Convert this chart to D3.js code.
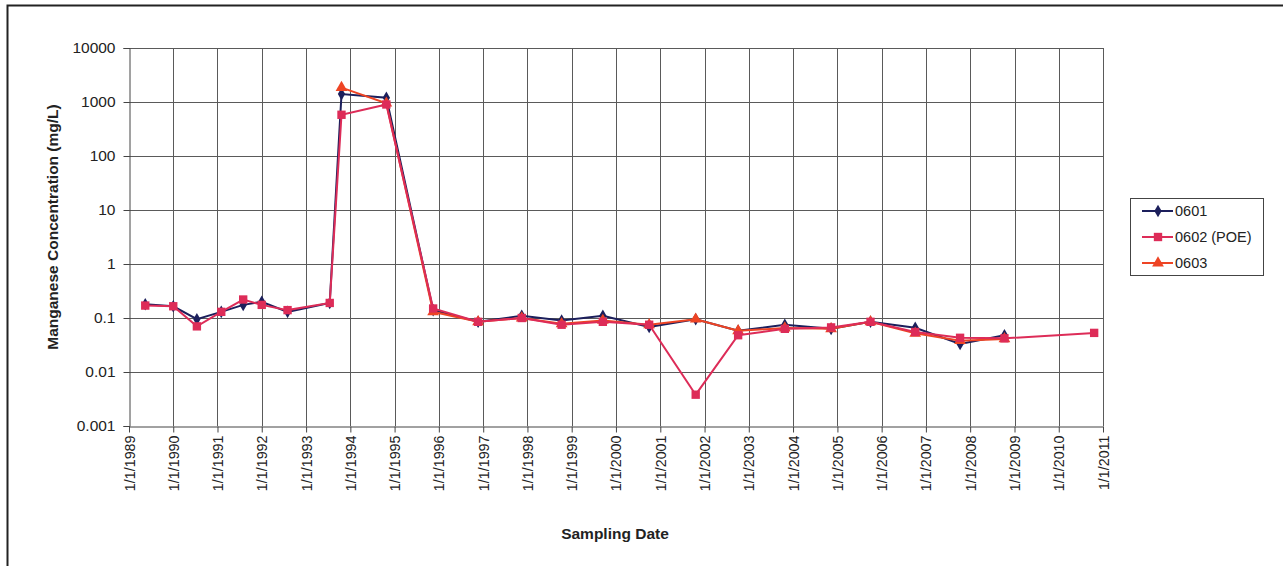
<!DOCTYPE html>
<html>
<head>
<meta charset="utf-8">
<script src="https://cdn.jsdelivr.net/npm/d3@7"></script>
<style>
  html, body { margin: 0; padding: 0; background: #fff; }
  svg { display: block; font-family: "Liberation Sans", Arial, sans-serif; }
</style>
</head>
<body>
<svg id="chart" width="1283" height="566"></svg>
<script>
// Manganese concentration at wells 0601, 0602 (POE) and 0603
const seriesNames = ["0601", "0602 (POE)", "0603"];

const dates0601 = ["1989-05-15","1990-01-01","1990-07-15","1991-02-01","1991-08-01","1992-01-01","1992-08-01","1993-07-15","1993-10-20","1994-10-25","1995-11-15","1996-11-20","1997-11-15","1998-10-10","1999-09-15","2000-10-01","2001-10-20","2002-10-05","2003-10-25","2004-11-10","2005-10-01","2006-10-05","2007-10-10","2008-10-10"];
const values0601 = [0.18, 0.165, 0.095, 0.13, 0.175, 0.2, 0.13, 0.19, 1400, 1200, 0.14, 0.085, 0.11, 0.09, 0.11, 0.068, 0.095, 0.058, 0.075, 0.063, 0.085, 0.066, 0.033, 0.048];

const dates0602 = ["1989-05-15","1990-01-01","1990-07-15","1991-02-01","1991-08-01","1992-01-01","1992-08-01","1993-07-15","1993-10-20","1994-10-25","1995-11-15","1996-11-20","1997-11-15","1998-10-10","1999-09-15","2000-10-01","2001-10-20","2002-10-05","2003-10-25","2004-11-10","2005-10-01","2006-10-05","2007-10-10","2008-10-10","2010-10-20"];
const values0602 = [0.17, 0.165, 0.07, 0.13, 0.22, 0.175, 0.14, 0.19, 580, 900, 0.15, 0.085, 0.1, 0.075, 0.085, 0.075, 0.0038, 0.048, 0.063, 0.067, 0.085, 0.055, 0.043, 0.042, 0.053];

const dates0603 = ["1993-10-20","1994-10-25","1995-11-15","1996-11-20","1997-11-15","1998-10-10","1999-09-15","2000-10-01","2001-10-20","2002-10-05","2003-10-25","2004-11-10","2005-10-01","2006-10-05","2007-10-10","2008-10-10"];
const values0603 = [1850, 950, 0.13, 0.085, 0.1, 0.078, 0.09, 0.075, 0.095, 0.058, 0.065, 0.063, 0.085, 0.052, 0.038, 0.041];

const yTickValues = [0.001, 0.01, 0.1, 1, 10, 100, 1000, 10000];
const yTickLabels = ["0.001", "0.01", "0.1", "1", "10", "100", "1000", "10000"];
const xYears = d3.range(1989, 2012);

const parse = d3.timeParse("%Y-%m-%d");
const zip = (ds, vs) => ds.map((d, i) => ({ date: parse(d), value: vs[i] }));

const series = [
  { name: seriesNames[0], data: zip(dates0601, values0601), color: "#1c1f5c", marker: d3.symbolDiamond, size: 46 },
  { name: seriesNames[2], data: zip(dates0603, values0603), color: "#ee4424", marker: d3.symbolTriangle, size: 60 },
  { name: seriesNames[1], data: zip(dates0602, values0602), color: "#dd2c58", marker: d3.symbolSquare, size: 70 }
];

const svg = d3.select("#chart");
const plot = { left: 129, right: 1103, top: 48, bottom: 426 };
const font = "Liberation Sans, Arial, sans-serif";

// chart frame
svg.append("path")
  .attr("d", "M7.5,566 V5.5 H1283")
  .attr("fill", "none").attr("stroke", "#222").attr("stroke-width", 2);

const x = d3.scaleTime()
  .domain([new Date(1989, 0, 1), new Date(2011, 0, 1)])
  .range([plot.left, plot.right]);
const y = d3.scaleLog()
  .domain([0.001, 10000])
  .range([plot.bottom, plot.top]);

// gridlines
const grid = svg.append("g").attr("stroke", "#5a5a5a").attr("stroke-width", 1);
grid.selectAll(".vg").data(xYears.slice(1)).join("line")
  .attr("x1", d => Math.round(x(new Date(d, 0, 1))) + 0.5)
  .attr("x2", d => Math.round(x(new Date(d, 0, 1))) + 0.5)
  .attr("y1", plot.top).attr("y2", plot.bottom);
grid.selectAll(".hg").data(yTickValues.slice(1)).join("line")
  .attr("x1", plot.left).attr("x2", plot.right)
  .attr("y1", d => Math.round(y(d)) + 0.5)
  .attr("y2", d => Math.round(y(d)) + 0.5);

// y axis
const yAxis = svg.append("g")
  .attr("transform", `translate(${plot.left + 0.5},0)`)
  .call(d3.axisLeft(y).tickValues(yTickValues)
    .tickFormat((d, i) => yTickLabels[i]).tickSize(6).tickPadding(8));
yAxis.select(".domain").attr("stroke", "#444");
yAxis.selectAll(".tick line").attr("stroke", "#444");
yAxis.selectAll(".tick text").attr("font-size", 15.5).attr("fill", "#222")
  .attr("font-family", font);

// x axis
const xAxis = svg.append("g")
  .attr("transform", `translate(0,${plot.bottom + 0.5})`)
  .call(d3.axisBottom(x).tickValues(xYears.map(yr => new Date(yr, 0, 1)))
    .tickFormat(d => "1/1/" + d.getFullYear()).tickSize(6).tickSizeOuter(0));
xAxis.select(".domain").attr("stroke", "#444");
xAxis.selectAll(".tick line").attr("stroke", "#444");
xAxis.selectAll(".tick text")
  .attr("font-size", 14.3).attr("fill", "#222")
  .attr("font-family", font)
  .attr("text-anchor", "end")
  .attr("dy", "0.35em")
  .attr("transform", "translate(0,9) rotate(-90)")
  .attr("x", 0).attr("y", 0);

// axis titles
svg.append("text")
  .attr("transform", `translate(58,${(plot.top + plot.bottom) / 2 - 10}) rotate(-90)`)
  .attr("text-anchor", "middle")
  .attr("font-size", 15.5).attr("font-weight", "bold").attr("fill", "#222")
  .text("Manganese Concentration (mg/L)");
svg.append("text")
  .attr("x", 615).attr("y", 539)
  .attr("text-anchor", "middle")
  .attr("font-size", 15.5).attr("font-weight", "bold").attr("fill", "#222")
  .text("Sampling Date");

// series lines and markers
const line = d3.line().x(d => x(d.date)).y(d => y(d.value));
series.forEach(s => {
  const g = svg.append("g");
  g.append("path").datum(s.data)
    .attr("d", line).attr("fill", "none")
    .attr("stroke", s.color).attr("stroke-width", 2);
  g.selectAll("path.m").data(s.data).join("path")
    .attr("class", "m")
    .attr("transform", d => `translate(${x(d.date)},${y(d.value)})`)
    .attr("d", d3.symbol(s.marker, s.size)())
    .attr("fill", s.color);
});

// legend
const legend = svg.append("g");
legend.append("rect")
  .attr("x", 1130.5).attr("y", 198.5).attr("width", 133).attr("height", 77)
  .attr("fill", "#fff").attr("stroke", "#444").attr("stroke-width", 1);
const legendOrder = [series[0], series[2], series[1]];
legendOrder.forEach((s, i) => {
  const cy = 211 + i * 26;
  legend.append("line")
    .attr("x1", 1142).attr("x2", 1173).attr("y1", cy).attr("y2", cy)
    .attr("stroke", s.color).attr("stroke-width", 2);
  legend.append("path")
    .attr("transform", `translate(1158,${cy})`)
    .attr("d", d3.symbol(s.marker, s.size)())
    .attr("fill", s.color);
  legend.append("text")
    .attr("x", 1175).attr("y", cy).attr("dy", "0.35em")
    .attr("font-size", 14.5).attr("fill", "#222")
    .text(s.name);
});
</script>
</body>
</html>
